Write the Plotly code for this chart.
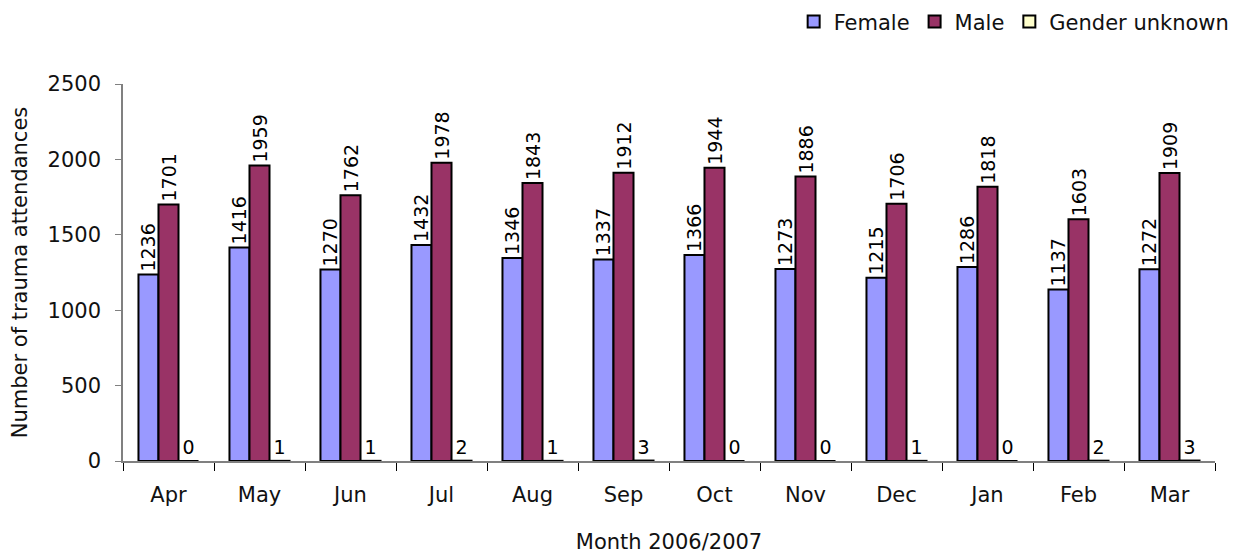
import plotly.graph_objects as go

months = ["Apr", "May", "Jun", "Jul", "Aug", "Sep", "Oct", "Nov", "Dec", "Jan", "Feb", "Mar"]
female = [1236, 1416, 1270, 1432, 1346, 1337, 1366, 1273, 1215, 1286, 1137, 1272]
male = [1701, 1959, 1762, 1978, 1843, 1912, 1944, 1886, 1706, 1818, 1603, 1909]
unknown = [0, 1, 1, 2, 1, 3, 0, 0, 1, 0, 2, 3]

FONT = "DejaVu Sans, Liberation Sans, sans-serif"
FS = 21
VS = 19
fig = go.Figure()
fig.add_trace(go.Bar(name="Female", x=months, y=female, text=[str(v) for v in female],
                     textposition="outside", textangle=-90, cliponaxis=False, constraintext="none",
                     marker=dict(color="#9999FF", line=dict(color="black", width=2))))
fig.add_trace(go.Bar(name="Male", x=months, y=male, text=[str(v) for v in male],
                     textposition="outside", textangle=-90, cliponaxis=False, constraintext="none",
                     marker=dict(color="#993366", line=dict(color="black", width=2))))
fig.add_trace(go.Bar(name="Gender unknown", x=months, y=unknown, text=[str(v) for v in unknown],
                     textposition="outside", textangle=0, cliponaxis=False, constraintext="none",
                     marker=dict(color="#FFFFCC", line=dict(color="black", width=2))))

fig.update_traces(textfont=dict(size=VS, color="black", family=FONT))

fig.update_layout(
    width=1236, height=554,
    barmode="group", bargap=0.34, bargroupgap=0,
    plot_bgcolor="white", paper_bgcolor="white",
    margin=dict(l=115, r=29, t=76, b=101, autoexpand=False),
    font=dict(family=FONT, size=FS, color="#111111"),
    legend=dict(orientation="h", x=1.018, xanchor="right", xref="paper",
                y=1.165, yanchor="middle", yref="paper",
                font=dict(size=FS), traceorder="normal", itemwidth=30,
                tracegroupgap=0),
    xaxis=dict(title=dict(text="Month 2006/2007", font=dict(size=FS), standoff=28),
               showline=True, linecolor="#808080", linewidth=1.5,
               ticks="outside", tickson="boundaries", ticklen=8, tickcolor="black",
               ticklabelstandoff=14,
               tickfont=dict(size=FS), automargin=False),
    yaxis=dict(title=dict(text="Number of trauma attendances", font=dict(size=FS), standoff=32),
               range=[0, 2500], dtick=500, showgrid=False, zeroline=False,
               showline=True, linecolor="#808080", linewidth=1.5,
               ticks="outside", ticklen=6, tickcolor="#808080",
               ticklabelstandoff=10,
               tickfont=dict(size=FS), automargin=False),
)
fig.write_html("out.html")
